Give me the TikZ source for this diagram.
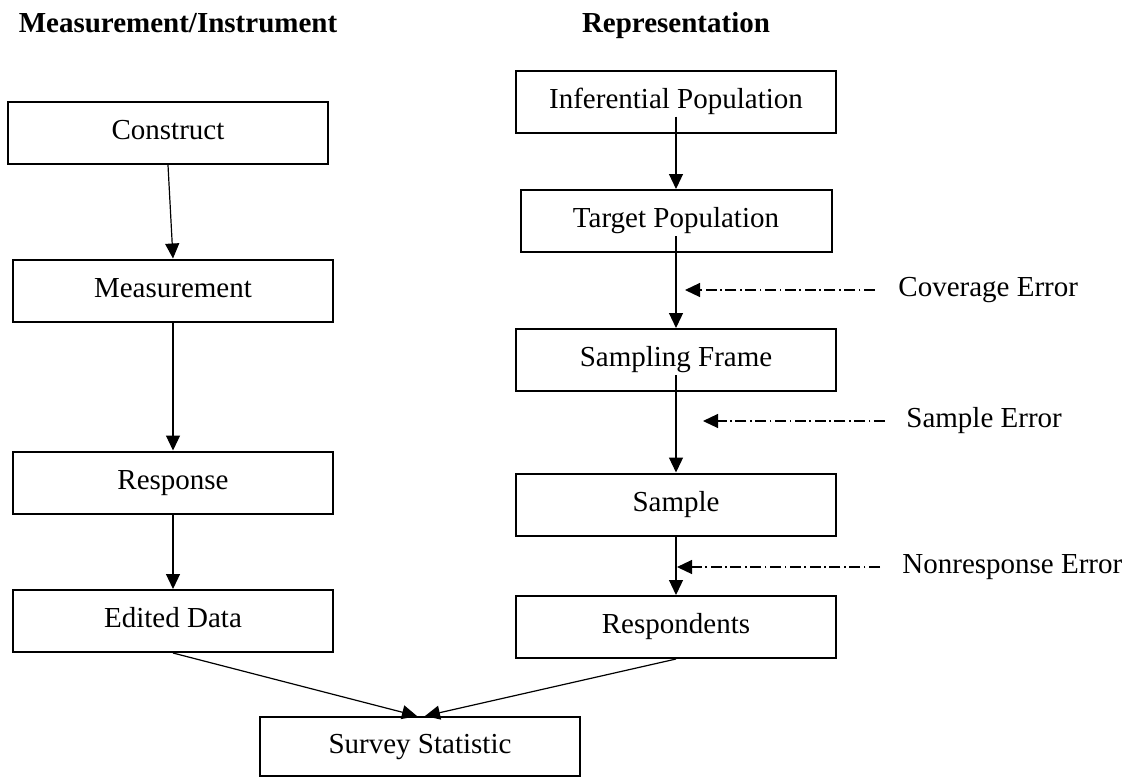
\documentclass[tikz,border=0pt]{standalone}
\usepackage{fontspec}
\setmainfont{Liberation Serif}
\usetikzlibrary{arrows.meta}

\begin{document}
\begin{tikzpicture}[x=0.5pt,y=-0.5pt,
    boxstyle/.style={rectangle,draw,line width=1pt,minimum width=160pt,minimum height=31pt,inner sep=0pt,text height=9.9pt,text depth=3.2pt,font=\fontsize{14.5pt}{17pt}\selectfont},
    headstyle/.style={anchor=base,inner sep=0pt,font=\fontsize{14.5pt}{17pt}\selectfont\bfseries},
    errstyle/.style={anchor=west,inner sep=0pt,text height=9.9pt,text depth=3.2pt,font=\fontsize{14.5pt}{17pt}\selectfont},
    arrowstyle/.style={line width=0.6pt,-{Triangle[length=7.5pt,width=7pt]}},
    errline/.style={arrowstyle,dash pattern=on 5.5pt off 1.8pt on 0.8pt off 1.8pt}]
    \useasboundingbox (0,0) rectangle (1133,777);
    \node [headstyle] (meahead) at (178,32) {Measurement/Instrument};
    \node [headstyle] (rephead) at (676,32) {Representation};
    \node [boxstyle] (con) at (168,133) {Construct};
    \node [boxstyle] (mea) at (173,290.5) {Measurement};
    \node [boxstyle] (res) at (173,482.5) {Response};
    \node [boxstyle] (edi) at (173,621) {Edited Data};
    \node [boxstyle] (inf) at (676,101.5) {Inferential Population};
    \node [boxstyle,minimum width=155.5pt] (tar) at (676,221) {Target Population};
    \node [boxstyle] (frm) at (676,360) {Sampling Frame};
    \node [boxstyle] (sam) at (676,504.5) {Sample};
    \node [boxstyle] (rsp) at (676,627) {Respondents};
    \node [boxstyle,minimum height=29.5pt] (sur) at (420,746.5) {Survey Statistic};
    \node [errstyle] (cov) at (898,290) {Coverage Error};
    \node [errstyle] (smp) at (906,421) {Sample Error};
    \node [errstyle] (non) at (902,567) {Nonresponse Error};
    \coordinate (covtip) at (685,290);
    \coordinate (smptip) at (703,421);
    \coordinate (nontip) at (677,567);
    \draw[arrowstyle] (con.south) -- (mea.north);
    \foreach \a/\b in {mea/res,res/edi,sam/rsp}
      \draw[arrowstyle] (\a.south) -- (\b.north);
    \foreach \a/\b in {inf/tar,tar/frm,frm/sam}
      \draw[arrowstyle] ([yshift=8.5pt]\a.south) -- (\b.north);
    \draw[arrowstyle] (edi.south) -- ([xshift=-1.5pt]sur.north);
    \draw[arrowstyle] (rsp.south) -- ([xshift=2.5pt]sur.north);
    \draw[errline] ([xshift=-11.5pt]cov.west) -- (covtip);
    \draw[errline] ([xshift=-10.5pt]smp.west) -- (smptip);
    \draw[errline] ([xshift=-11pt]non.west) -- (nontip);
\end{tikzpicture}
\end{document}
